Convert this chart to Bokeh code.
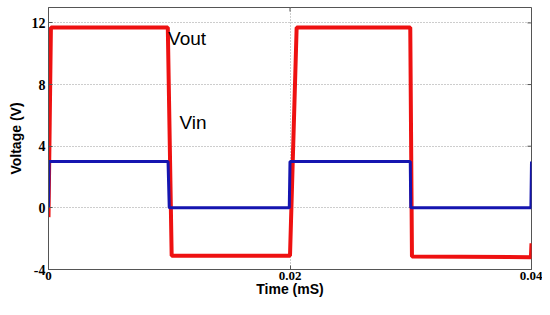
import math
from bokeh.plotting import figure
from bokeh.models import FixedTicker, Range1d, Label
from bokeh.embed import file_html
from bokeh.resources import INLINE

# Data
vout_t = [0.0, 0.0001, 0.0002, 0.00988, 0.0102, 0.0200, 0.02055, 0.02996, 0.0301, 0.03995, 0.04]
vout_v = [-0.6, 5.5, 11.7, 11.7, -3.1, -3.1, 11.7, 11.7, -3.15, -3.2, -2.3]

vin_t = [0.0, 0.00005, 0.0099, 0.0100, 0.01994, 0.0200, 0.02996, 0.0300, 0.03995, 0.04]
vin_v = [0.0, 3.0, 3.0, 0.0, 0.0, 3.0, 3.0, 0.0, 0.0, 3.0]

x_ticks = [0, 0.02, 0.04]
x_tick_labels = ["0", "0.02", "0.04"]
y_ticks = [-4, 0, 4, 8, 12]
y_tick_labels = ["-4", "0", "4", "8", "12"]

labels = ["Vout", "Vin"]
label_x = [0.0099, 0.01085]
label_y = [10.97, 5.54]

x_lo, x_hi = 0.0, 0.04
y_lo, y_hi = -4.0, 13.0

p = figure(width=542, height=299, output_backend="svg", toolbar_location=None,
           x_range=Range1d(x_lo, x_hi), y_range=Range1d(y_lo, y_hi),
           min_border_left=48, min_border_right=11, min_border_top=7, min_border_bottom=26)
p.background_fill_color = "white"
p.border_fill_color = "white"
p.outline_line_color = "#555555"
p.outline_line_width = 1

serif_bold = dict(major_label_text_font="Liberation Serif", major_label_text_font_style="bold",
                  major_label_text_font_size="14px", major_label_text_color="black")

p.xaxis.ticker = FixedTicker(ticks=x_ticks)
p.xaxis.major_label_overrides = {t: s for t, s in zip(x_ticks, x_tick_labels)}
p.yaxis.ticker = FixedTicker(ticks=y_ticks)
p.yaxis.major_label_overrides = {t: s for t, s in zip(y_ticks, y_tick_labels)}
for ax in (p.xaxis[0], p.yaxis[0]):
    ax.update(**serif_bold)
    ax.axis_line_color = "#555555"
    ax.major_tick_line_color = "#555555"
    ax.major_tick_in = 4
    ax.major_tick_out = 0
    ax.minor_tick_line_color = None
    ax.axis_label_text_font = "Liberation Sans"
    ax.axis_label_text_font_style = "bold"
    ax.axis_label_text_font_size = "14px"
    ax.axis_label_text_color = "black"
p.xaxis.major_label_text_font_size = "13px"
p.xaxis.axis_label = "Time (mS)"
p.yaxis.axis_label = "Voltage (V)"
p.xaxis.major_label_standoff = 2
p.xaxis.axis_label_standoff = -2
p.yaxis.major_label_standoff = 3
p.yaxis.axis_label_standoff = 5

p.xgrid.ticker = FixedTicker(ticks=x_ticks)
p.ygrid.ticker = FixedTicker(ticks=y_ticks)
for g in (p.xgrid[0], p.ygrid[0]):
    g.grid_line_color = "#9a9a9a"
    g.grid_line_dash = "1 2"
    g.grid_line_width = 1

# box ticks on the right and top edges (inward, 4 px)
p.ray(x=[x_hi] * len(y_ticks), y=y_ticks, length=4, length_units="screen",
      angle=math.pi, line_color="#555555", line_width=1)
p.ray(x=x_ticks, y=[y_hi] * len(x_ticks), length=4, length_units="screen",
      angle=-math.pi / 2, line_color="#555555", line_width=1)

p.line(vout_t, vout_v, line_color="#ee1111", line_width=4)
p.line(vin_t, vin_v, line_color="#1515b0", line_width=3)

for s, x, y in zip(labels, label_x, label_y):
    p.add_layout(Label(x=x, y=y, text=s, text_font="Liberation Sans", text_font_size="19px",
                       text_color="black", text_baseline="middle", text_align="left"))

out = open("out.html", "w")
out.write(file_html(p, INLINE))
out.close()
